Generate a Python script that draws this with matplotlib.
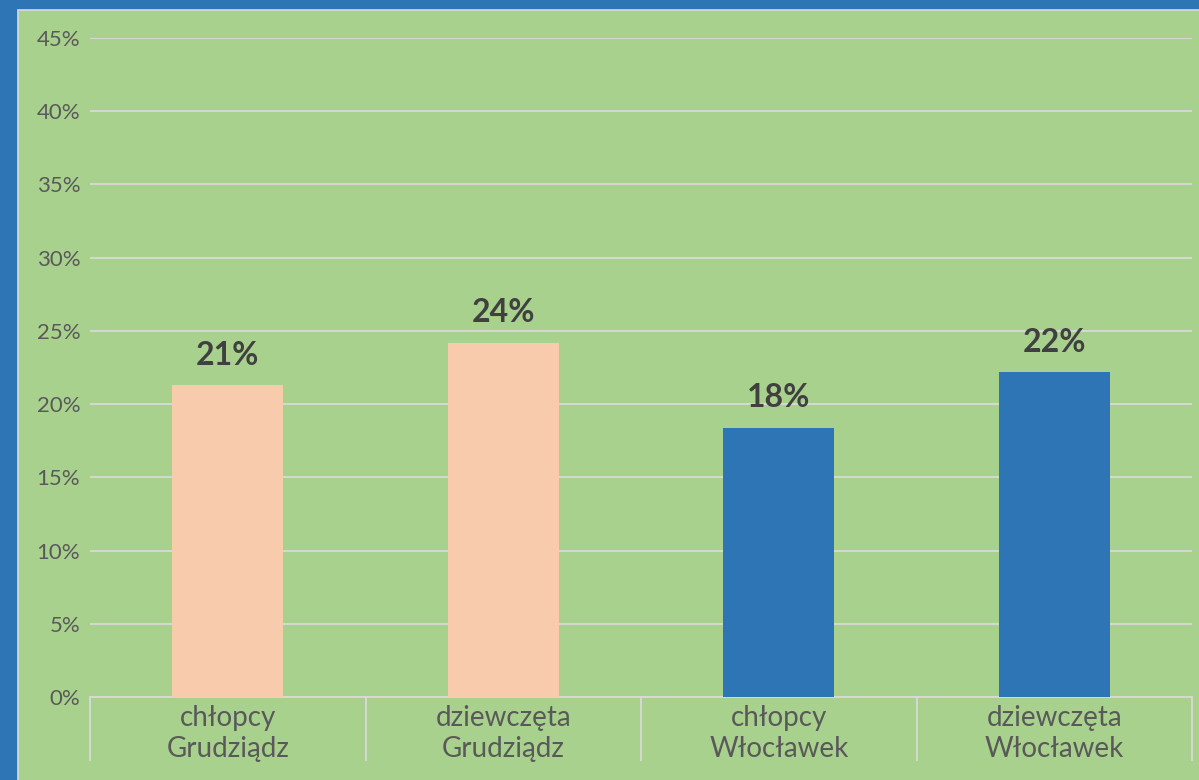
import matplotlib.pyplot as plt
from matplotlib.patches import Rectangle
from matplotlib.ticker import FuncFormatter, FixedLocator

plt.rcParams['font.family'] = ['Lato', 'DejaVu Sans']

# data
categories = ['chłopcy\nGrudziądz', 'dziewczęta\nGrudziądz', 'chłopcy\nWłocławek', 'dziewczęta\nWłocławek']
values = [0.213, 0.242, 0.184, 0.222]
colors = ['#f8cbad', '#f8cbad', '#2e75b6', '#2e75b6']
yticks = [0, 0.05, 0.10, 0.15, 0.20, 0.25, 0.30, 0.35, 0.40, 0.45]

W, H = 1199, 780
fig = plt.figure(figsize=(W / 100, H / 100), dpi=100)
fig.patch.set_facecolor('#2e75b6')

# green panel with thin grey border
fig.patches.append(Rectangle((18 / W, -0.01), 1.01 - 18 / W, 1 - 10 / H + 0.01,
                             transform=fig.transFigure, facecolor='#a9d18e',
                             edgecolor='#d9d9d9', linewidth=1.2, zorder=-10))

ax = fig.add_axes([90 / W, (H - 697) / H, (1192 - 90) / W, (697 - 38) / H])
ax.set_facecolor('none')
ax.set_zorder(5)

x = range(len(categories))
bars = ax.bar(x, values, width=0.403, color=colors, zorder=3)

for b, v in zip(bars, values):
    ax.annotate(f'{v:.0%}', (b.get_x() + b.get_width() / 2, v),
                xytext=(0, 11), textcoords='offset points', ha='center', va='bottom',
                fontsize=23, fontweight='bold', color='#404040', zorder=4)

ax.set_xlim(-0.5, len(categories) - 0.5)
ax.set_ylim(0, 0.45)
ax.set_yticks(yticks)
ax.yaxis.set_major_formatter(FuncFormatter(lambda v, p: f'{v:.0%}'))
ax.tick_params(axis='y', length=0, pad=7, labelsize=16, labelcolor='#595959')
ax.grid(axis='y', color='#d9d9d9', linewidth=1.3, zorder=1)

ax.set_xticks(list(x))
ax.set_xticklabels(categories, fontsize=20, color='#595959', linespacing=1.2)
ax.tick_params(axis='x', which='major', length=0, pad=6)
ax.xaxis.set_minor_locator(FixedLocator([i - 0.5 for i in range(len(categories) + 1)]))
ax.tick_params(axis='x', which='minor', length=46, width=1.3, color='#d9d9d9')

for s in ['top', 'right', 'left']:
    ax.spines[s].set_visible(False)
ax.spines['bottom'].set_color('#d9d9d9')
ax.spines['bottom'].set_linewidth(1.3)

fig.savefig('out.png', dpi=100, facecolor=fig.get_facecolor())
